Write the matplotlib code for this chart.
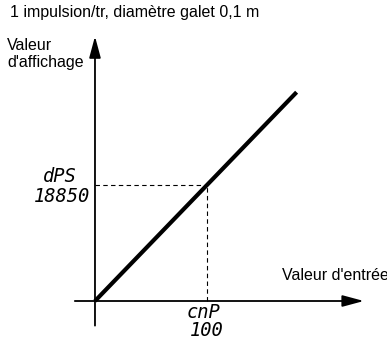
import matplotlib
matplotlib.use("Agg")
from matplotlib import pyplot as plt

plt.rcParams['font.family'] = ['Liberation Sans', 'DejaVu Sans']

# données : point de réglage et droite de mise à l'échelle
entree_reglage = 100
affichage_reglage = 18850
entree_max = 180
droite_x = [0, entree_max]
droite_y = [0, entree_max * affichage_reglage / entree_reglage]

titre = "1 impulsion/tr, diamètre galet 0,1 m"
label_y = "Valeur\nd'affichage"
label_x = "Valeur d'entrée"
code_y, valeur_y = "dPS", "18850"
code_x, valeur_x = "cnP", "100"

fig = plt.figure(figsize=(3.87, 3.46), dpi=100)
ax = fig.add_axes([0, 0, 1, 1])
ax.set_xlim(-84.8, 260.7)
ax.set_ylim(-7312, 48912)
ax.axis("off")

# axes avec flèches
ax.annotate("", xy=(240, 0), xytext=(-18, 0),
            arrowprops=dict(arrowstyle="-|>,head_length=1.3,head_width=0.35",
                            color="black", lw=1.3, shrinkA=0, shrinkB=0))
ax.annotate("", xy=(0, 43000), xytext=(0, -4000),
            arrowprops=dict(arrowstyle="-|>,head_length=1.3,head_width=0.35",
                            color="black", lw=1.3, shrinkA=0, shrinkB=0))

# droite
ax.plot(droite_x, droite_y, color="black", lw=3, solid_capstyle="butt")

# repères en pointillés
ax.plot([0, entree_reglage], [affichage_reglage, affichage_reglage],
        color="black", lw=0.8, ls=(0, (4, 3)))
ax.plot([entree_reglage, entree_reglage], [0, affichage_reglage],
        color="black", lw=0.8, ls=(0, (4, 3)))

# textes
fs = 11.5
fig.text(10 / 387, 1 - 13 / 346, titre, fontsize=fs, va="center", ha="left")
fig.text(7 / 387, 1 - 38 / 346, label_y, fontsize=fs, va="top", ha="left",
         linespacing=1.15)
fig.text(1.004, 1 - 276 / 346, label_x, fontsize=fs, va="center", ha="right")

seg = dict(family="DejaVu Sans Mono", style="italic", fontsize=13.5,
           color="black")
fig.text(60 / 387, 1 - 177 / 346, code_y, ha="center", va="center", **seg)
fig.text(62 / 387, 1 - 197 / 346, valeur_y, ha="center", va="center", **seg)
fig.text(203 / 387, 1 - 312 / 346, code_x, ha="center", va="center", **seg)
fig.text(207 / 387, 1 - 331 / 346, valeur_x, ha="center", va="center", **seg)

fig.savefig("out.png", dpi=100)
